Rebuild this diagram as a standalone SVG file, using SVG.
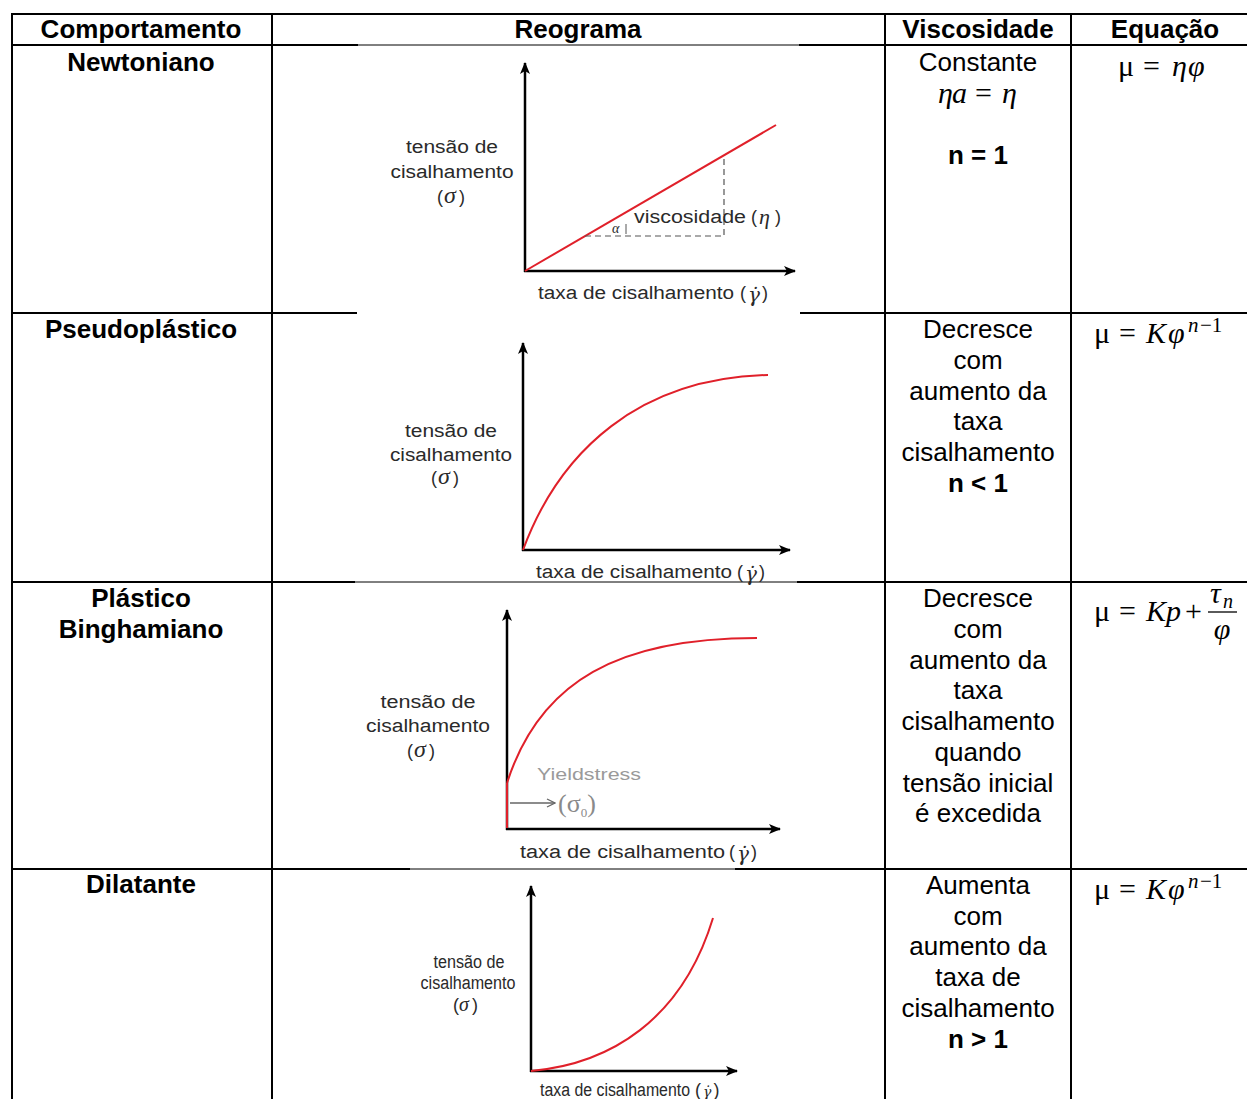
<svg xmlns="http://www.w3.org/2000/svg" width="1247" height="1099" viewBox="0 0 1247 1099">
  <style>
    .hd { font-family: "Liberation Sans", Arial, sans-serif; font-size: 26px; font-weight: bold; fill: #000; text-anchor: middle; }
    .tx { font-family: "Liberation Sans", Arial, sans-serif; font-size: 26px; fill: #000; text-anchor: middle; }
    .eq { font-family: "Liberation Serif", "Times New Roman", serif; font-size: 30px; fill: #000; }
    .it { font-style: italic; }
    .gl { font-family: "Liberation Sans", Arial, sans-serif; font-size: 18px; fill: #2a2a2a; }
    .gs { font-family: "Liberation Serif", serif; font-style: italic; fill: #2a2a2a; }
    .gd { font-family: "DejaVu Serif", serif; font-style: italic; fill: #2a2a2a; }
    .grid { stroke: #000; stroke-width: 2; fill: none; }
    .thin { stroke: #000; stroke-width: 1; fill: none; }
    .axis { stroke: #000; stroke-width: 2.5; fill: none; }
    .curve { stroke: #e0202a; stroke-width: 2; fill: none; }
  </style>
  <defs>
    <marker id="ah" viewBox="0 0 12 10" refX="11" refY="5" markerWidth="12" markerHeight="10" markerUnits="userSpaceOnUse" orient="auto">
      <path d="M0,0 L12,5 L0,10 L3,5 Z" fill="#000"/>
    </marker>
    <marker id="ahg" viewBox="0 0 10 10" refX="9" refY="5" markerWidth="10" markerHeight="10" markerUnits="userSpaceOnUse" orient="auto">
      <path d="M1,1 L9,5 L1,9" fill="none" stroke="#666" stroke-width="1.3"/>
    </marker>
  </defs>
  <rect width="1247" height="1099" fill="#fff"/>

  <!-- table grid -->
  <g id="table">
    <line class="grid" x1="12" y1="14" x2="1247" y2="14"/>
    <line class="grid" x1="12" y1="45" x2="358" y2="45"/>
    <line class="thin" x1="358" y1="45" x2="799" y2="45"/>
    <line class="grid" x1="799" y1="45" x2="1247" y2="45"/>
    <line class="grid" x1="12" y1="313" x2="357" y2="313"/>
    <line class="grid" x1="800" y1="313" x2="1247" y2="313"/>
    <line class="grid" x1="12" y1="582" x2="355" y2="582"/>
    <line class="thin" x1="355" y1="582" x2="797" y2="582"/>
    <line class="grid" x1="797" y1="582" x2="1247" y2="582"/>
    <line class="grid" x1="12" y1="869" x2="410" y2="869"/>
    <line class="thin" x1="410" y1="869" x2="735" y2="869"/>
    <line class="grid" x1="735" y1="869" x2="1247" y2="869"/>
    <line class="grid" x1="12" y1="13" x2="12" y2="1099"/>
    <line class="grid" x1="272" y1="13" x2="272" y2="1099"/>
    <line class="grid" x1="885" y1="13" x2="885" y2="1099"/>
    <line class="grid" x1="1071" y1="13" x2="1071" y2="1099"/>
  </g>

  <!-- header row -->
  <g id="header">
    <text class="hd" x="141" y="38">Comportamento</text>
    <text class="hd" x="578" y="38">Reograma</text>
    <text class="hd" x="978" y="38">Viscosidade</text>
    <text class="hd" x="1165" y="38">Equação</text>
  </g>

  <!-- row: Newtoniano -->
  <g id="newtoniano">
    <text class="hd" x="141" y="71">Newtoniano</text>
    <text class="tx" x="978" y="71">Constante</text>
    <text class="eq it" font-size="27"><tspan x="938" y="103">η</tspan><tspan x="952">a</tspan><tspan x="975" font-style="normal">=</tspan><tspan x="1002">η</tspan></text>
    <text class="hd" x="978" y="164">n = 1</text>
    <text class="eq"><tspan x="1118" y="76">μ</tspan><tspan x="1143">=</tspan><tspan class="it" x="1172">η</tspan><tspan class="it" x="1188">φ</tspan></text>
  </g>
  <g id="graph-newtoniano">
    <line class="axis" x1="525" y1="272" x2="525" y2="63" marker-end="url(#ah)"/>
    <line class="axis" x1="524" y1="271" x2="795" y2="271" marker-end="url(#ah)"/>
    <line class="curve" x1="525" y1="271" x2="776" y2="125"/>
    <polyline points="585,236 724,236 724,155" fill="none" stroke="#555" stroke-width="1.2" stroke-dasharray="6,4"/>
    <text class="gs" x="612" y="233" font-size="14" font-style="normal">α</text>
    <line x1="626" y1="224" x2="626" y2="234" stroke="#555" stroke-width="1"/>
    <text class="gl" x="634" y="223"><tspan textLength="112" lengthAdjust="spacingAndGlyphs">viscosidade</tspan><tspan x="751">(</tspan><tspan class="gs" x="759" y="224" font-size="22">η</tspan><tspan x="775" y="223">)</tspan></text>
    <text class="gl" x="452" y="153" text-anchor="middle" textLength="92" lengthAdjust="spacingAndGlyphs">tensão de</text>
    <text class="gl" x="452" y="178" text-anchor="middle" textLength="123" lengthAdjust="spacingAndGlyphs">cisalhamento</text>
    <text class="gl" x="437" y="203">(<tspan class="gs" x="444" font-size="24">σ</tspan><tspan x="459">)</tspan></text>
    <text class="gl" x="538" y="299"><tspan textLength="196" lengthAdjust="spacingAndGlyphs">taxa de cisalhamento</tspan><tspan x="740">(</tspan><tspan class="gd" font-size="20" dx="2" dy="3">γ̇</tspan><tspan dx="2" dy="-3">)</tspan></text>
  </g>

  <!-- row: Pseudoplástico -->
  <g id="pseudoplastico">
    <text class="hd" x="141" y="338">Pseudoplástico</text>
    <text class="tx" x="978" y="338">Decresce</text>
    <text class="tx" x="978" y="369">com</text>
    <text class="tx" x="978" y="400">aumento da</text>
    <text class="tx" x="978" y="430">taxa</text>
    <text class="tx" x="978" y="461">cisalhamento</text>
    <text class="hd" x="978" y="492">n &lt; 1</text>
    <text class="eq"><tspan x="1094" y="343">μ</tspan><tspan x="1119">=</tspan><tspan class="it" x="1146">K</tspan><tspan class="it" x="1168">φ</tspan><tspan class="it" x="1188" y="332" font-size="21">n</tspan><tspan x="1200" font-size="21">−1</tspan></text>
  </g>
  <g id="graph-pseudoplastico">
    <line class="axis" x1="523" y1="551" x2="523" y2="343" marker-end="url(#ah)"/>
    <line class="axis" x1="522" y1="550" x2="790" y2="550" marker-end="url(#ah)"/>
    <path class="curve" d="M523,550 C560,450 640,378 768,375"/>
    <text class="gl" x="451" y="437" text-anchor="middle" textLength="92" lengthAdjust="spacingAndGlyphs">tensão de</text>
    <text class="gl" x="451" y="461" text-anchor="middle" textLength="122" lengthAdjust="spacingAndGlyphs">cisalhamento</text>
    <text class="gl" x="431" y="484">(<tspan class="gs" x="438" font-size="24">σ</tspan><tspan x="453">)</tspan></text>
    <text class="gl" x="536" y="578"><tspan textLength="196" lengthAdjust="spacingAndGlyphs">taxa de cisalhamento</tspan><tspan x="737">(</tspan><tspan class="gd" font-size="20" dx="2" dy="3">γ̇</tspan><tspan dx="2" dy="-3">)</tspan></text>
  </g>

  <!-- row: Plástico Binghamiano -->
  <g id="binghamiano">
    <text class="hd" x="141" y="607">Plástico</text>
    <text class="hd" x="141" y="638">Binghamiano</text>
    <text class="tx" x="978" y="607">Decresce</text>
    <text class="tx" x="978" y="638">com</text>
    <text class="tx" x="978" y="669">aumento da</text>
    <text class="tx" x="978" y="699">taxa</text>
    <text class="tx" x="978" y="730">cisalhamento</text>
    <text class="tx" x="978" y="761">quando</text>
    <text class="tx" x="978" y="792">tensão inicial</text>
    <text class="tx" x="978" y="822">é excedida</text>
    <text class="eq"><tspan x="1094" y="621">μ</tspan><tspan x="1119">=</tspan><tspan class="it" x="1146">K</tspan><tspan class="it" x="1166">p</tspan><tspan x="1185">+</tspan></text>
    <text class="eq it"><tspan x="1210" y="603">τ</tspan><tspan x="1223" y="608" font-size="20">n</tspan></text>
    <line x1="1208" y1="612" x2="1237" y2="612" stroke="#000" stroke-width="1.3"/>
    <text class="eq it" x="1222" y="639" text-anchor="middle">φ</text>
  </g>
  <g id="graph-binghamiano">
    <line class="axis" x1="507" y1="830" x2="507" y2="610" marker-end="url(#ah)"/>
    <line class="axis" x1="506" y1="829" x2="780" y2="829" marker-end="url(#ah)"/>
    <line class="curve" x1="507" y1="828" x2="507" y2="783" stroke-width="2.5"/>
    <path class="curve" d="M507,783 C540,680 620,638 757,638"/>
    <text x="537" y="780" font-family="'Liberation Sans', Arial, sans-serif" font-size="17" fill="#9a9a9a" textLength="104" lengthAdjust="spacingAndGlyphs">Yieldstress</text>
    <line x1="510" y1="803" x2="555" y2="803" stroke="#666" stroke-width="1.5" marker-end="url(#ahg)"/>
    <text x="558" y="812" font-family="'Liberation Serif', serif" font-size="26" fill="#8a8a8a">(σ<tspan font-size="13" dy="5">0</tspan><tspan dy="-5">)</tspan></text>
    <text class="gl" x="428" y="708" text-anchor="middle" textLength="95" lengthAdjust="spacingAndGlyphs">tensão de</text>
    <text class="gl" x="428" y="732" text-anchor="middle" textLength="124" lengthAdjust="spacingAndGlyphs">cisalhamento</text>
    <text class="gl" x="407" y="757">(<tspan class="gs" x="414" font-size="24">σ</tspan><tspan x="429">)</tspan></text>
    <text class="gl" x="520" y="858"><tspan textLength="205" lengthAdjust="spacingAndGlyphs">taxa de cisalhamento</tspan><tspan x="729">(</tspan><tspan class="gd" font-size="20" dx="2" dy="3">γ̇</tspan><tspan dx="2" dy="-3">)</tspan></text>
  </g>

  <!-- row: Dilatante -->
  <g id="dilatante">
    <text class="hd" x="141" y="893">Dilatante</text>
    <text class="tx" x="978" y="894">Aumenta</text>
    <text class="tx" x="978" y="925">com</text>
    <text class="tx" x="978" y="955">aumento da</text>
    <text class="tx" x="978" y="986">taxa de</text>
    <text class="tx" x="978" y="1017">cisalhamento</text>
    <text class="hd" x="978" y="1048">n &gt; 1</text>
    <text class="eq"><tspan x="1094" y="899">μ</tspan><tspan x="1119">=</tspan><tspan class="it" x="1146">K</tspan><tspan class="it" x="1168">φ</tspan><tspan class="it" x="1188" y="888" font-size="21">n</tspan><tspan x="1200" font-size="21">−1</tspan></text>
  </g>
  <g id="graph-dilatante">
    <line class="axis" x1="531" y1="1072" x2="531" y2="886" marker-end="url(#ah)"/>
    <line class="axis" x1="530" y1="1071" x2="737" y2="1071" marker-end="url(#ah)"/>
    <path class="curve" d="M531,1071 C610,1064 682,1020 713,918"/>
    <text class="gl" x="469" y="968" text-anchor="middle" font-size="14" textLength="71" lengthAdjust="spacingAndGlyphs">tensão de</text>
    <text class="gl" x="468" y="989" text-anchor="middle" font-size="14" textLength="95" lengthAdjust="spacingAndGlyphs">cisalhamento</text>
    <text class="gl" x="453" y="1011" font-size="14">(<tspan class="gs" x="459" font-size="20">σ</tspan><tspan x="472">)</tspan></text>
    <text class="gl" x="540" y="1096" font-size="14"><tspan textLength="150" lengthAdjust="spacingAndGlyphs">taxa de cisalhamento</tspan><tspan x="695">(</tspan><tspan class="gd" font-size="14" dx="2" dy="1">γ̇</tspan><tspan dx="2" dy="-1">)</tspan></text>
  </g>
</svg>
